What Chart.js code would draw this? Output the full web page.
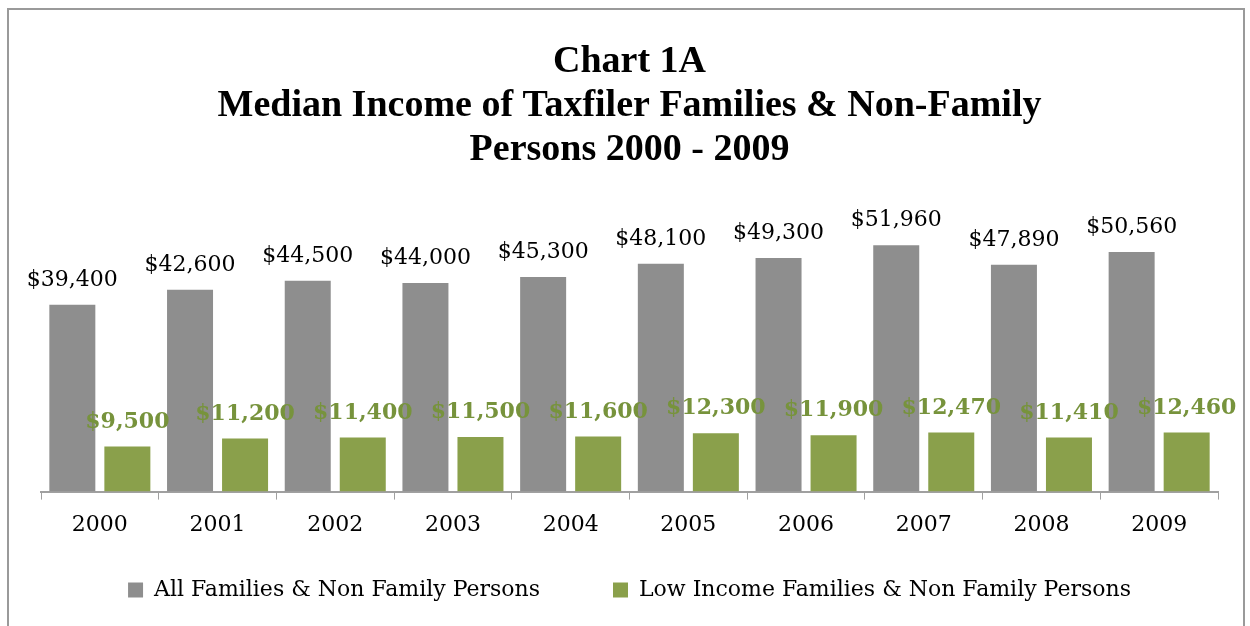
<!DOCTYPE html>
<html>
<head>
<meta charset="utf-8">
<script src="https://cdn.jsdelivr.net/npm/chart.js@4"></script>
<style>
  html, body { margin: 0; padding: 0; background: #fff; }
  #wrap { width: 1250px; height: 626px; }
</style>
</head>
<body>
<div id="wrap"><canvas id="incomechart" width="1250" height="626"></canvas></div>
<script>
const years = ['2000', '2001', '2002', '2003', '2004', '2005', '2006', '2007', '2008', '2009'];
const allFamilies = [39400, 42600, 44500, 44000, 45300, 48100, 49300, 51960, 47890, 50560];
const lowIncome = [9500, 11200, 11400, 11500, 11600, 12300, 11900, 12470, 11410, 12460];
const titleLines = ['Chart 1A', 'Median Income of Taxfiler Families & Non-Family', 'Persons 2000 - 2009'];

const serif = "'DejaVu Serif', 'Liberation Serif', serif";
const titleFont = "'Liberation Serif', serif";

// grey frame round the whole chart
const framePlugin = {
  id: 'frame',
  beforeDraw(chart) {
    const c = chart.ctx;
    c.save();
    c.strokeStyle = '#9a9a9a';
    c.lineWidth = 2;
    c.strokeRect(8, 9, chart.width - 14, chart.height + 20);
    c.restore();
  }
};

// value labels above each bar
const barLabels = {
  id: 'barLabels',
  afterDatasetsDraw(chart) {
    const c = chart.ctx;
    c.save();
    c.textAlign = 'center';
    c.textBaseline = 'alphabetic';
    chart.data.datasets.forEach((ds, i) => {
      const meta = chart.getDatasetMeta(i);
      c.font = ds.labelFont;
      c.fillStyle = ds.labelColor;
      meta.data.forEach((bar, j) => {
        c.fillText('$' + ds.data[j].toLocaleString('en-US'), bar.x, bar.y - 19);
      });
    });
    c.restore();
  }
};

const ctx = document.getElementById('incomechart').getContext('2d');
const incomechart = new Chart(ctx, {
  type: 'bar',
  data: {
    labels: years,
    datasets: [
      {
        label: 'All Families & Non Family Persons',
        data: allFamilies,
        backgroundColor: '#8e8e8e',
        labelColor: '#000000',
        labelFont: '22px ' + serif,
        categoryPercentage: 0.935,
        barPercentage: 0.836
      },
      {
        label: 'Low Income Families & Non Family Persons',
        data: lowIncome,
        backgroundColor: '#8aa04b',
        labelColor: '#77933c',
        labelFont: 'bold 22px ' + serif,
        categoryPercentage: 0.935,
        barPercentage: 0.836
      }
    ]
  },
  options: {
    responsive: false,
    animation: false,
    layout: {
      padding: { left: 41, right: 32, top: 40, bottom: 15 }
    },
    plugins: {
      title: {
        display: true,
        text: titleLines,
        color: '#000000',
        font: { family: titleFont, size: 38, weight: 'bold', lineHeight: 1.16 },
        padding: { top: 0, bottom: 35 }
      },
      legend: {
        position: 'bottom',
        labels: {
          color: '#000000',
          font: { family: serif, size: 22 },
          boxWidth: 15,
          boxHeight: 15,
          padding: 29,
          // widen the gap between the two entries
          generateLabels(chart) {
            const items = Chart.defaults.plugins.legend.labels.generateLabels(chart);
            items[0].text = items[0].text + '\u2003\u2003';
            return items;
          }
        }
      },
      tooltip: { enabled: false }
    },
    scales: {
      x: {
        grid: {
          display: true,
          drawOnChartArea: false,
          drawTicks: true,
          tickLength: 8,
          color: '#a0a0a0'
        },
        border: { display: true, color: '#a0a0a0', width: 2 },
        ticks: {
          color: '#000000',
          font: { family: serif, size: 22 },
          padding: 12
        }
      },
      y: {
        display: false,
        min: 0,
        max: 60000
      }
    }
  },
  plugins: [framePlugin, barLabels]
});
</script>
</body>
</html>
